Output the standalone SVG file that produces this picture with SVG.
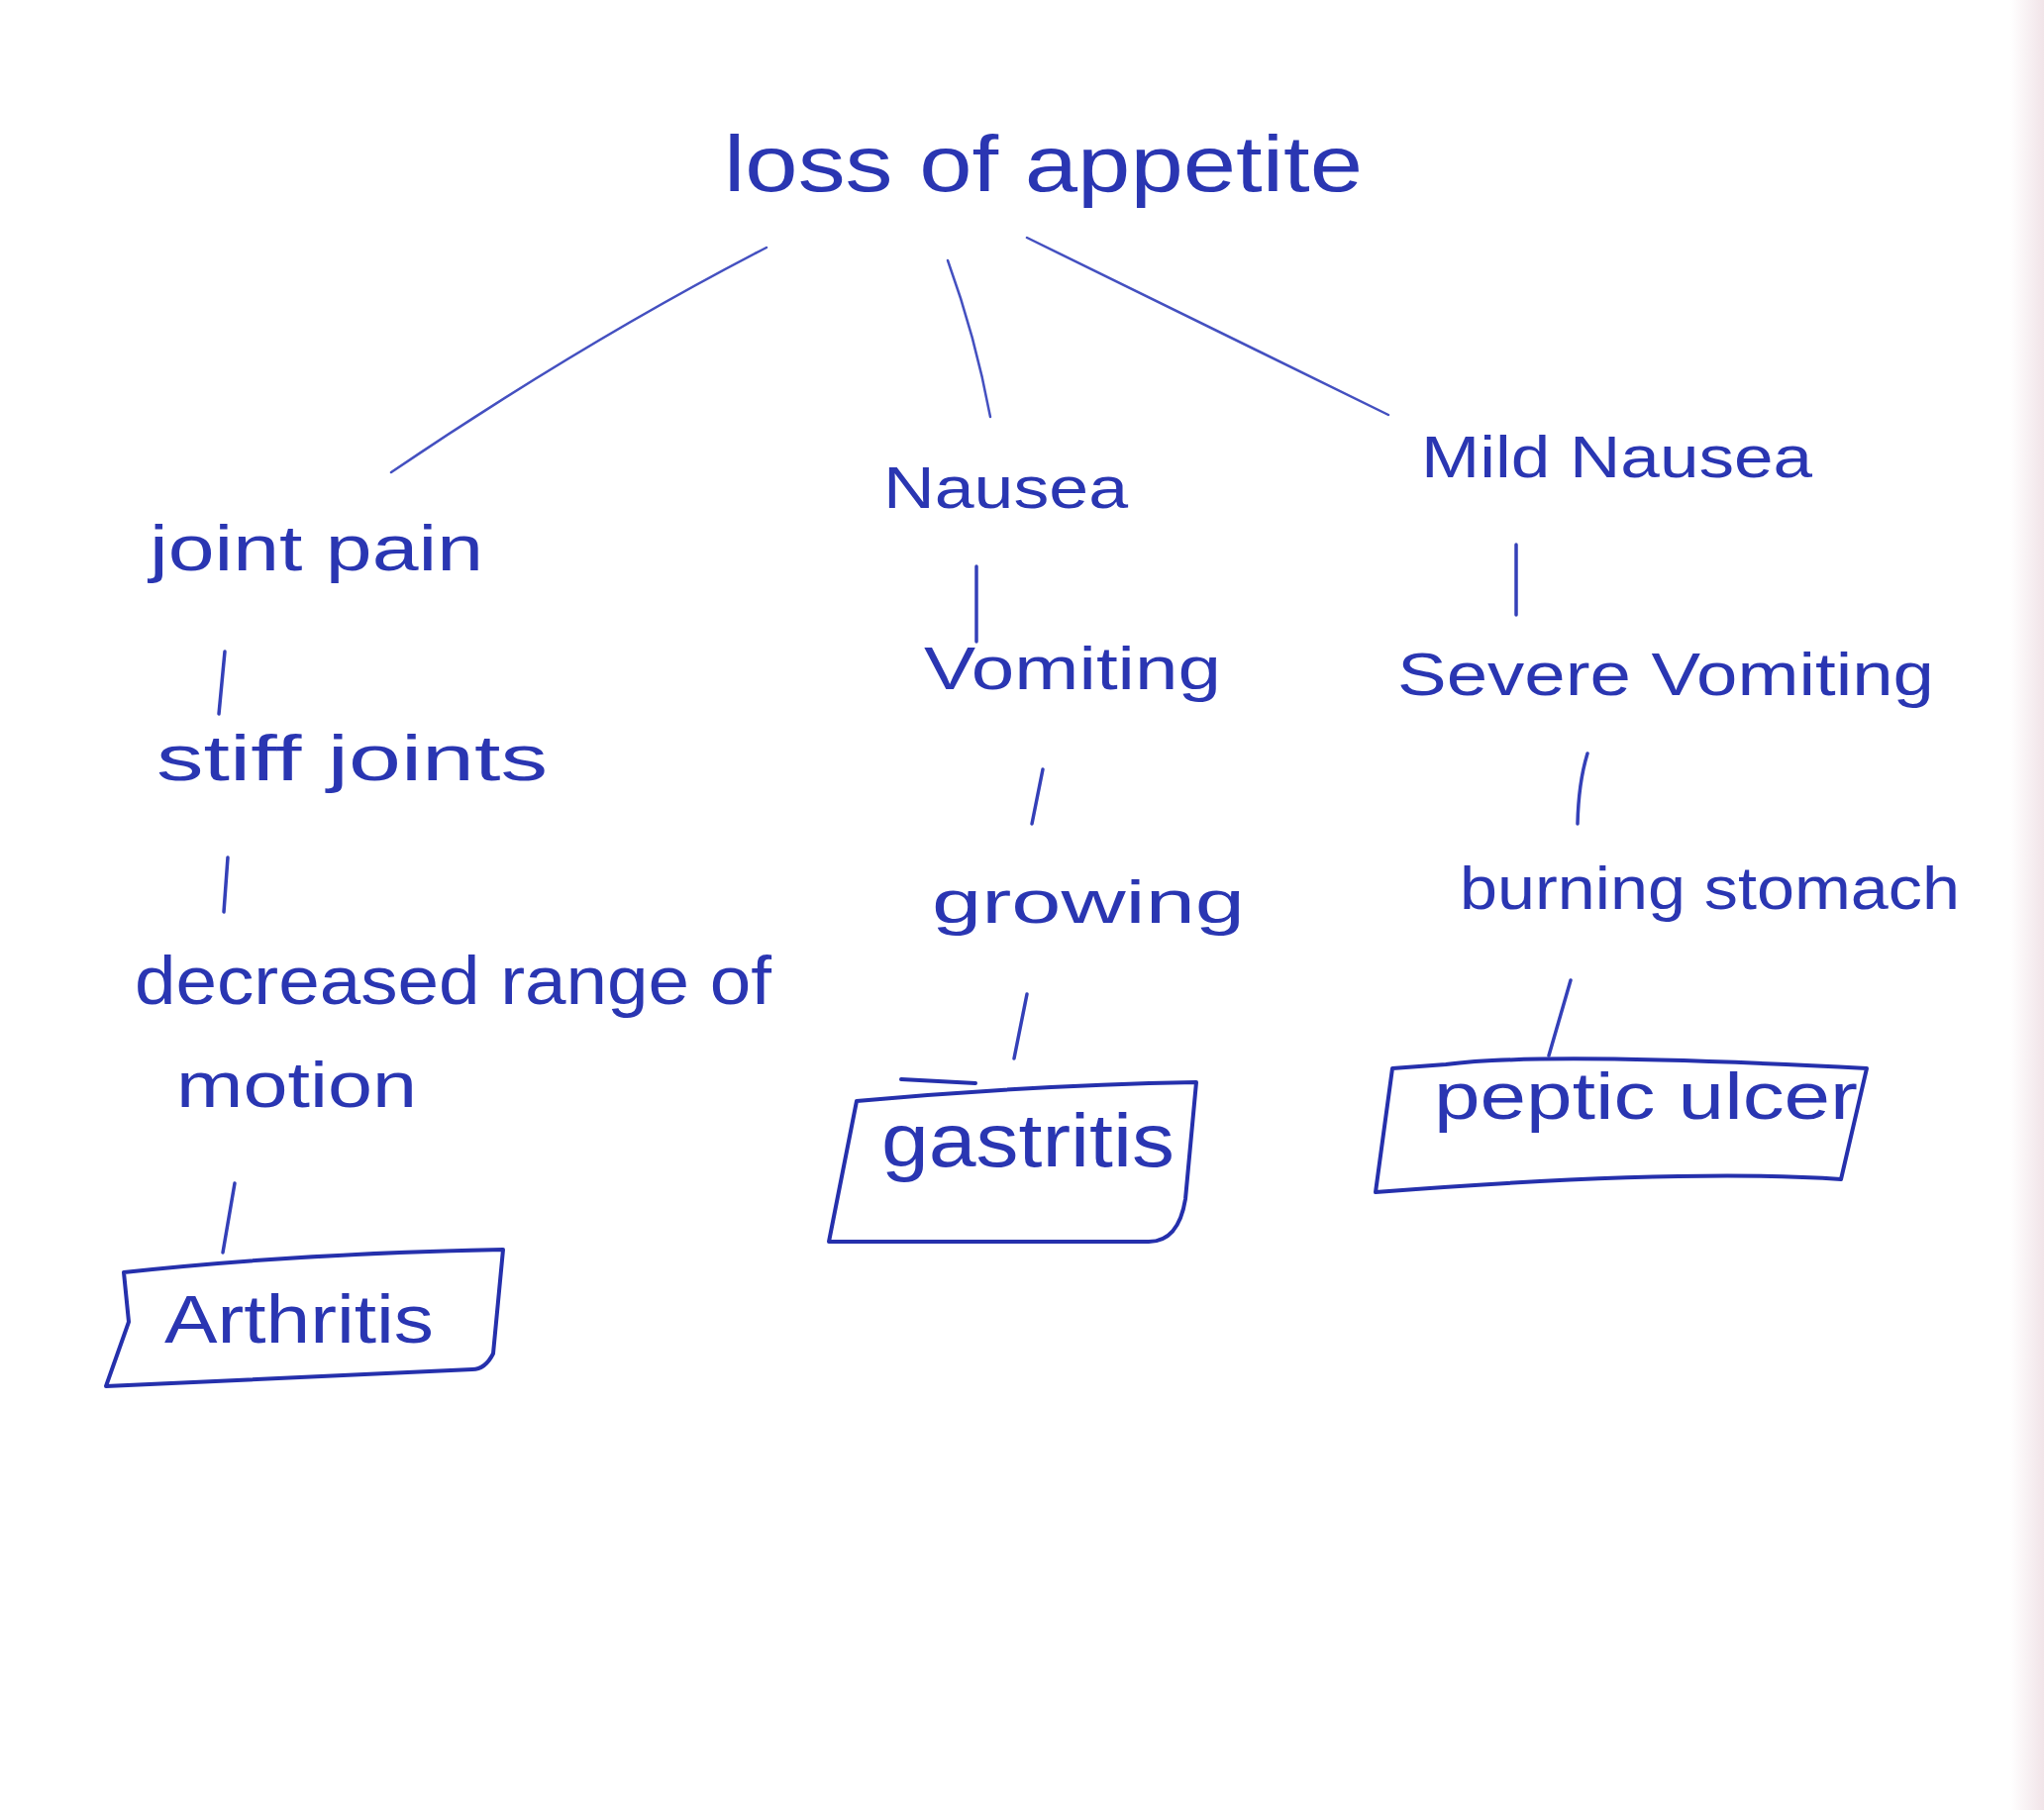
<svg xmlns="http://www.w3.org/2000/svg" width="2064" height="1828" viewBox="0 0 2064 1828">
<defs>
<style>
.t{font-family:"Liberation Sans","DejaVu Sans",sans-serif;fill:#2a36b2}
.c{fill:none;stroke:#3440b8;stroke-width:3.5;stroke-linecap:round;stroke-linejoin:round}
.thin{stroke-width:2.5;stroke:#4450c0}
.b{fill:none;stroke:#2530ac;stroke-width:4;stroke-linecap:round;stroke-linejoin:round}
</style>
<linearGradient id="edge" x1="0" y1="0" x2="1" y2="0">
<stop offset="0" stop-color="#ffffff"/>
<stop offset="1" stop-color="#f1e4e8"/>
</linearGradient>
</defs>
<rect width="2064" height="1828" fill="#ffffff"/>
<rect x="2030" y="0" width="34" height="1828" fill="url(#edge)"/>

<g id="connectors">
<path class="c thin" d="M774,250 Q590,345 395,477"/>
<path class="c thin" d="M957,263 Q985,340 1000,421"/>
<path class="c thin" d="M1037,240 Q1220,330 1402,419"/>
<path class="c" d="M227,658 L221,721"/>
<path class="c" d="M230,866 L226,921"/>
<path class="c" d="M237,1195 L225,1265"/>
<path class="c" d="M986,572 L986,648"/>
<path class="c" d="M1053,777 L1042,832"/>
<path class="c" d="M1037,1004 L1024,1069"/>
<path class="c" d="M1531,550 L1531,621"/>
<path class="c" d="M1603,761 Q1594,790 1593,832"/>
<path class="c" d="M1586,990 L1564,1066"/>
</g>

<g id="root"><text class="t" x="731" y="193" font-size="80" textLength="645" lengthAdjust="spacingAndGlyphs">loss of appetite</text></g>

<g id="joint-pain"><text class="t" x="151" y="576" font-size="64" textLength="337" lengthAdjust="spacingAndGlyphs">joint pain</text></g>
<g id="stiff-joints"><text class="t" x="158" y="788" font-size="64" textLength="395" lengthAdjust="spacingAndGlyphs">stiff joints</text></g>
<g id="decreased-range"><text class="t" x="136" y="1014" font-size="68" textLength="643" lengthAdjust="spacingAndGlyphs">decreased range of</text><text class="t" x="178" y="1118" font-size="64" textLength="243" lengthAdjust="spacingAndGlyphs">motion</text></g>
<g id="arthritis">
<path class="b" d="M125,1285 Q300,1266 508,1262 L498,1367 Q490,1383 477,1383 L107,1400 L130,1335 L125,1285"/>
<text class="t" x="166" y="1356" font-size="68" textLength="272" lengthAdjust="spacingAndGlyphs">Arthritis</text>
</g>

<g id="nausea"><text class="t" x="892" y="513" font-size="60" textLength="247" lengthAdjust="spacingAndGlyphs">Nausea</text></g>
<g id="vomiting"><text class="t" x="933" y="696" font-size="62" textLength="300" lengthAdjust="spacingAndGlyphs">Vomiting</text></g>
<g id="growing"><text class="t" x="941" y="932" font-size="62" textLength="316" lengthAdjust="spacingAndGlyphs">growing</text></g>
<g id="gastritis">
<path class="b" d="M910,1090 L985,1094"/>
<path class="b" d="M865,1112 Q1040,1096 1208,1093 L1197,1211 Q1190,1254 1160,1254 L837,1254 L865,1112"/>
<text class="t" x="890" y="1178" font-size="76" textLength="296" lengthAdjust="spacingAndGlyphs">gastritis</text>
</g>

<g id="mild-nausea"><text class="t" x="1435" y="482" font-size="60" textLength="395" lengthAdjust="spacingAndGlyphs">Mild Nausea</text></g>
<g id="severe-vomiting"><text class="t" x="1411" y="702" font-size="62" textLength="542" lengthAdjust="spacingAndGlyphs">Severe Vomiting</text></g>
<g id="burning-stomach"><text class="t" x="1474" y="918" font-size="62" textLength="505" lengthAdjust="spacingAndGlyphs">burning stomach</text></g>
<g id="peptic-ulcer">
<path class="b" d="M1406,1079 L1460,1075 Q1560,1062 1885,1079 L1859,1191 Q1700,1180 1389,1204 Z"/>
<text class="t" x="1448" y="1130" font-size="66" textLength="428" lengthAdjust="spacingAndGlyphs">peptic ulcer</text>
</g>
</svg>
